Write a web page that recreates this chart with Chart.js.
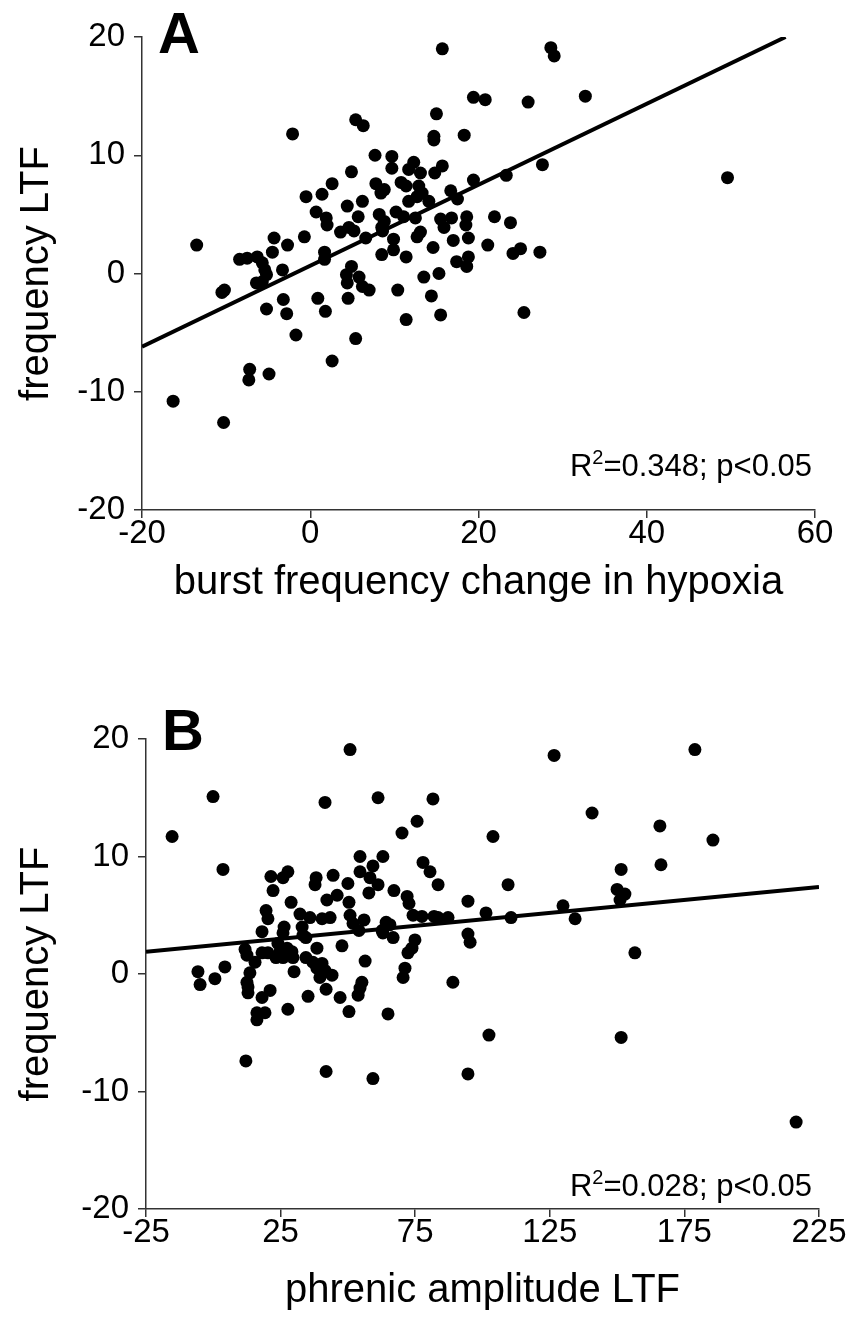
<!DOCTYPE html>
<html>
<head>
<meta charset="utf-8">
<script src="https://cdn.jsdelivr.net/npm/chart.js@4.4.0/dist/chart.umd.min.js"></script>
<style>
body { margin: 0; background: #fff; }
#wrap { position: relative; width: 851px; height: 1334px; }
canvas { position: absolute; left: 0; }
#chartA { top: 0; }
#chartB { top: 640px; }
</style>
</head>
<body>
<div id="wrap">
    <canvas id="chartA" width="851" height="640"></canvas>
    <canvas id="chartB" width="851" height="694"></canvas>
</div>
<script>
// panel A: burst frequency change in hypoxia vs frequency LTF
var aBurstChange = [
    15.7, 19.4, 15.0, 5.4, 6.3, -2.1, 14.7, 14.7, 18.3, 7.7,
    9.7, 9.7, 12.3, 11.7, 13.1, 15.7, 14.8, 19.4, 4.9, 7.8,
    8.4, 8.8, 2.6, 10.8, 11.4, 12.9, 13.3, 12.7, 16.7, 17.5,
    -0.5, 1.4, 6.2, 11.7, 14.1, 4.4, 0.7, 1.9, 2.0, 5.7,
    8.2, 8.8, 8.5, 10.2, 11.1, 12.5, 13.1, 12.7, 15.5, 15.9,
    16.8, 18.6, 18.5, 3.6, 4.6, 5.2, 6.6, 8.6, -0.7, -4.3,
    -4.5, -2.7, 9.9, 9.9, 11.4, 8.5, 14.6, 17.0, 18.8, -13.5,
    -8.4, -7.5, -6.3, -5.7, -5.4, -3.3, 1.7, 1.7, 4.9, 17.4,
    18.8, 18.6, 13.5, 15.3, -5.2, -6.4, -5.7, -10.5, -10.2, -3.2,
    -5.2, -2.8, 0.9, 1.8, -1.7, 2.6, 5.4, 4.5, 4.3, 4.4,
    5.8, 6.2, 7.0, 10.4, 11.4,
    14.4, 15.5, -7.2, -7.3, -4.9, -16.3, -10.3,
    28.6, 29.0, 20.8, 25.9, 32.7, 23.3, 27.6, 49.6, 21.9, 23.8, 21.1, 24.1, 25.0, 27.3, 25.4
];
var aFreqLtf = [
    19.0, 14.9, 13.5, 13.0, 12.5, 11.8, 11.6, 11.3, 11.7, 10.0,
    9.9, 8.9, 9.4, 8.8, 8.5, 9.1, 8.5, 7.9, 8.6, 7.6,
    6.8, 7.1, 7.6, 7.7, 7.4, 7.4, 6.8, 6.5, 7.0, 6.3,
    6.5, 6.7, 6.1, 6.1, 6.1, 5.7, 5.2, 4.7, 4.1, 4.8,
    5.0, 4.4, 3.9, 5.2, 4.8, 4.7, 3.5, 3.1, 4.6, 3.9,
    4.7, 4.8, 4.1, 3.5, 3.9, 3.6, 3.0, 3.6, 3.1, 3.0,
    1.8, 2.4, 2.9, 2.0, 1.4, 1.6, 2.2, 2.8, 3.0, 2.4,
    1.2, 1.3, 1.4, 0.9, 0.3, 0.3, 1.8, 1.2, 0.6, 1.0,
    1.4, 0.6, -0.3, 0.0, -0.1, -0.8, -0.7, -1.6, -1.4, -2.2,
    -3.0, -3.4, -2.1, -3.2, -5.2, -7.4, -5.5, -2.1, -0.1, -0.8,
    -0.3, -1.1, -1.4, -1.4, -3.9,
    -1.9, -3.5, -8.1, -9.0, -8.5, -10.8, -12.6,
    19.1, 18.4, 14.7, 14.5, 15.0, 8.3, 9.2, 8.1, 4.8, 4.3, 2.4, 1.7, 2.1, 1.8, -3.3
];
var aFitX = [-20, 56.5];
var aFitY = [-6.2, 20.0];
var aXTicks = [-20, 0, 20, 40, 60];

// panel B: phrenic amplitude LTF vs frequency LTF
var bPhrenicAmp = [
    50.8, -0.1, 41.5, 61.2, 81.6, -15.3, 75.7, 70.1, 3.6, 54.5,
    63.0, 54.5, 59.3, 58.2, 61.2, 77.9, 80.5, 83.5, 44.5, 38.2,
    37.8, 21.4, 27.7, 25.9, 22.2, 50.0, 46.0, 42.2, 50.4, 57.8,
    67.1, 72.0, 72.7, 28.9, 19.6, 20.3, 32.2, 35.9, 40.4, 43.4,
    50.8, 51.9, 56.0, 74.2, 77.5, 82.0, 64.2, 65.6, 62.7, 63.0,
    66.8, 26.3, 25.9, 33.0, 33.3, 34.4, 18.1, 54.1, 38.5, 47.8,
    11.8, 12.5, 18.1, 20.3, 24.0, 24.8, 23.3, 25.9, 27.4, 29.2,
    29.6, 15.5, 74.9, 73.8, 72.3, 34.4, 37.0, 38.5, 40.4, 40.4,
    41.5, 44.1, 39.6, 56.4, 71.2, 70.5, 4.3, -5.7, -4.9, 0.6,
    13.6, 12.5, 30.0, 55.2, 54.5, 21.1, 18.1, 35.2, 41.9, 47.1,
    12.9, 12.9, 16.2, 19.2, 16.2, 27.7, 50.4, 53.8, 64.9, 12.1,
    41.9, 59.3, 126.6, 178.9, 140.7, 165.9, 185.6, 103.9, 151.5, 166.3,
    109.5, 94.6, 150.0, 152.9, 151.1,
    83.5, 87.2, 101.3, 110.6, 129.9, 134.4, 94.6, 95.4, 156.6, 89.0, 102.4, 151.5, 94.6, 216.5
];
var bFreqLtf = [
    19.1, 15.1, 14.6, 15.0, 14.9, 11.7, 13.0, 12.0, 8.9, 10.0,
    10.0, 8.7, 9.2, 8.2, 7.6, 9.5, 8.7, 7.6, 8.4, 8.2,
    7.6, 8.3, 8.7, 8.2, 7.1, 7.7, 6.7, 6.3, 6.1, 6.9,
    7.1, 6.6, 6.0, 6.1, 5.4, 4.7, 5.1, 4.8, 4.7, 4.8,
    5.0, 4.3, 4.6, 5.0, 4.9, 4.9, 4.4, 4.2, 3.7, 3.5,
    3.1, 4.0, 3.5, 4.0, 3.3, 3.1, 3.6, 3.7, 2.2, 2.4,
    2.1, 1.6, 1.8, 1.8, 2.6, 1.9, 1.4, 1.4, 2.2, 1.9,
    1.4, 1.0, 2.9, 2.2, 1.8, 1.4, 1.0, 0.5, 0.9, 0.2,
    0.3, -0.1, -0.3, 1.1, 0.5, -0.3, 0.6, 0.2, -0.9, -0.4,
    0.1, -0.7, 0.2, -0.7, -1.2, -1.4, -2.0, -1.9, -1.3, -2.0,
    -1.1, -1.6, -3.3, -3.3, -3.9, -3.0, -3.2, -1.8, -3.4, -7.4,
    -8.3, -8.9, 18.6, 19.1, 13.7, 12.6, 11.4, 11.7, 8.9, 9.3,
    7.6, 6.2, 7.2, 6.8, 6.3,
    4.8, 4.8, 5.2, 4.8, 5.8, 4.7, 3.4, 2.7, 1.8, -0.7, -5.2, -5.4, -8.5, -12.6
];
var bFitX = [-25, 225];
var bFitY = [1.9, 7.4];
var bXTicks = [-25, 25, 75, 125, 175, 225];

var yTicks = [-20, -10, 0, 10, 20];

var FONT = '"Liberation Sans", Arial, sans-serif';
Chart.defaults.font.family = FONT;
Chart.defaults.color = '#000';

function toPoints(xs, ys) {
    var pts = [];
    for (var i = 0; i < xs.length; i++) {
        pts.push({ x: xs[i], y: ys[i] });
    }
    return pts;
}

// letter + R^2 note drawn on top of the plot
var panelText = {
    id: 'panelText',
    afterDraw: function (chart, args, opts) {
        var ctx = chart.ctx;
        ctx.save();
        ctx.fillStyle = '#000';
        ctx.textBaseline = 'alphabetic';
        ctx.textAlign = 'left';
        ctx.font = 'bold 58px ' + FONT;
        ctx.fillText(opts.letter, opts.letterX, opts.letterY);

        var rest = '=' + opts.r2 + '; p<0.05';
        ctx.font = '31px ' + FONT;
        var wR = ctx.measureText('R').width;
        var wRest = ctx.measureText(rest).width;
        ctx.font = '20px ' + FONT;
        var wSup = ctx.measureText('2').width;
        var x0 = opts.noteRight - wRest - wSup - wR;
        ctx.font = '31px ' + FONT;
        ctx.fillText('R', x0, opts.noteY);
        ctx.fillText(rest, x0 + wR + wSup, opts.noteY);
        ctx.font = '20px ' + FONT;
        ctx.fillText('2', x0 + wR, opts.noteY - 12);
        ctx.restore();
    }
};

function axisStyle() {
    return {
        grid: { display: true, drawOnChartArea: false, drawTicks: true, tickLength: 8, color: '#333', lineWidth: 1.5 },
        border: { display: true, color: '#333', width: 1.5 }
    };
}

function drawPanel(id, cfg) {
    var xAxis = axisStyle();
    xAxis.type = 'linear';
    xAxis.min = cfg.xTicks[0];
    xAxis.max = cfg.xTicks[cfg.xTicks.length - 1];
    xAxis.afterBuildTicks = function (scale) {
        scale.ticks = cfg.xTicks.map(function (v) { return { value: v }; });
    };
    xAxis.afterFit = function (scale) { scale.height = cfg.xAxisH; };
    xAxis.ticks = { font: { size: 33 }, color: '#000', padding: -4, maxRotation: 0, autoSkip: false };
    xAxis.title = { display: true, text: cfg.xTitle, color: '#000', font: { size: 40 }, padding: { top: 0, bottom: cfg.xTitlePad } };

    var yAxis = axisStyle();
    yAxis.type = 'linear';
    yAxis.min = -20;
    yAxis.max = 20;
    yAxis.afterBuildTicks = function (scale) {
        scale.ticks = yTicks.map(function (v) { return { value: v }; });
    };
    yAxis.afterFit = function (scale) { scale.width = cfg.left; };
    yAxis.ticks = { font: { size: 33 }, color: '#000', padding: 9, autoSkip: false };
    yAxis.title = { display: true, text: 'frequency LTF', color: '#000', font: { size: 40 }, padding: { top: 13, bottom: 0 } };

    new Chart(document.getElementById(id), {
        type: 'scatter',
        data: {
            datasets: [
                {
                    data: toPoints(cfg.xs, cfg.ys),
                    backgroundColor: '#000',
                    borderWidth: 0,
                    pointRadius: 6.5
                },
                {
                    type: 'line',
                    data: toPoints(cfg.fitX, cfg.fitY),
                    borderColor: '#000',
                    borderWidth: 4,
                    pointRadius: 0,
                    fill: false
                }
            ]
        },
        options: {
            responsive: false,
            animation: false,
            layout: { padding: { top: cfg.top, right: cfg.right, left: 0, bottom: 0 } },
            plugins: {
                legend: { display: false },
                tooltip: { enabled: false },
                panelText: cfg.text
            },
            scales: { x: xAxis, y: yAxis }
        },
        plugins: [panelText]
    });
}

drawPanel('chartA', {
    xs: aBurstChange, ys: aFreqLtf, fitX: aFitX, fitY: aFitY, xTicks: aXTicks,
    xTitle: 'burst frequency change in hypoxia',
    top: 37, right: 36, left: 142, xAxisH: 130, xTitlePad: 33,
    text: { letter: 'A', letterX: 158, letterY: 53, r2: '0.348', noteRight: 812, noteY: 476 }
});

drawPanel('chartB', {
    xs: bPhrenicAmp, ys: bFreqLtf, fitX: bFitX, fitY: bFitY, xTicks: bXTicks,
    xTitle: 'phrenic amplitude LTF',
    top: 99, right: 32, left: 146, xAxisH: 125, xTitlePad: 19,
    text: { letter: 'B', letterX: 162, letterY: 110, r2: '0.028', noteRight: 812, noteY: 556 }
});
</script>
</body>
</html>
